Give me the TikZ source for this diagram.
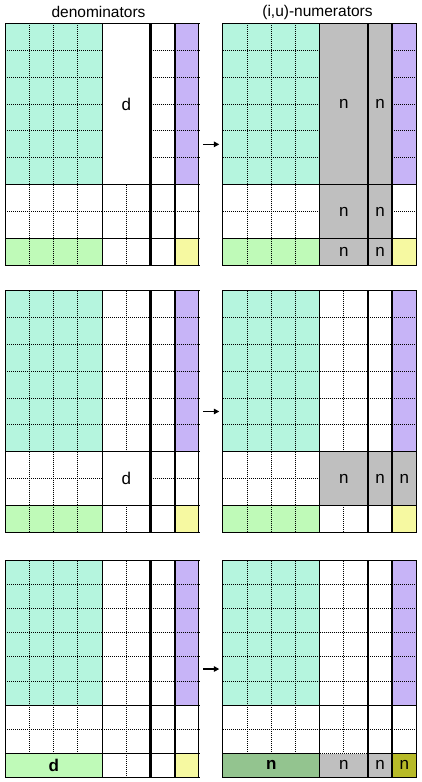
\documentclass[tikz,border=0pt]{standalone}
\usepackage{fontspec}
\setmainfont{Liberation Sans}
\usetikzlibrary{arrows.meta}

\definecolor{mint}{RGB}{181,245,222}
\definecolor{lilac}{RGB}{199,180,247}
\definecolor{pistachio}{RGB}{191,250,184}
\definecolor{lemon}{RGB}{246,249,161}
\definecolor{ngray}{RGB}{191,191,191}
\definecolor{moss}{RGB}{147,196,143}
\definecolor{oliveg}{RGB}{183,186,40}

% block with dotted cells: x1 y1 x2 y2 fill
\newcommand\blk[5]{%
  \fill[#5] (#1,#2) rectangle (#3,#4);
  \foreach \i in {#1,...,#3} \draw[dots] (\i,#2) -- (\i,#4);
  \foreach \j in {#2,...,#4} \draw[dots] (#1,\j) -- (#3,\j);}
% labelled block: name x1 y1 x2 y2 fill label
\newcommand\lblk[7]{%
  \fill[#6] (#2,#3) rectangle (#4,#5);
  \node[lab] (#1) at ({(#2+#4)/2},{(#3+#5)/2}) {#7};}
\newcommand\matframe[1]{%
  \draw[edge] (0,0) rectangle (8,9);
  \foreach \j in {6,8} \draw[edge] (0,\j) -- (8,\j);
  \foreach \i in {4,6,7} \draw[edge] (\i,0) -- (\i,9);
  \foreach \i in {#1} \draw[edge,line width=2.2pt] (\i,0) -- (\i,9);}

\begin{document}
\begin{tikzpicture}[x=1pt,y=-1pt,
  dots/.style={line width=1pt,dash pattern=on 1pt off 1pt},
  edge/.style={line width=1.1pt},
  lab/.style={font=\fontsize{17}{20}\selectfont},
  title/.style={font=\fontsize{15.5}{18}\selectfont},
  goes/.style={-{Triangle[length=5.5pt,width=5.5pt]},line width=1.5pt,shorten <=4.5pt,shorten >=3.5pt}]
\useasboundingbox (0,0) rectangle (422,782);
\node[title] (den) at (98.5,12) {denominators};
\node[title] (num) at (317.5,12) {(i,u)-numerators};

\begin{scope}[shift={(5.3,23.3)},x=24.2pt,y=-26.9pt]
\foreach \a/\b/\c/\d/\f in {0/0/4/6/mint,6/0/7/6/white,7/0/8/6/lilac,0/6/4/8/white,4/6/6/8/white,
  6/6/7/8/white,7/6/8/8/white,0/8/4/9/pistachio,4/8/6/9/white,6/8/7/9/white,7/8/8/9/lemon}
  {\blk{\a}{\b}{\c}{\d}{\f}}
\lblk{d1}{4}{0}{6}{6}{white}{d}
\matframe{6,7}
\coordinate (l1) at (8,4.5);
\end{scope}
\begin{scope}[shift={(222.8,23.3)},x=24.2pt,y=-26.9pt]
\foreach \a/\b/\c/\d/\f in {0/0/4/6/mint,7/0/8/6/lilac,0/6/4/8/white,7/6/8/8/white,0/8/4/9/pistachio,7/8/8/9/lemon}
  {\blk{\a}{\b}{\c}{\d}{\f}}
\lblk{n1a}{4}{0}{6}{6}{ngray}{n}
\lblk{n1b}{6}{0}{7}{6}{ngray}{n}
\lblk{n1c}{4}{6}{6}{8}{ngray}{n}
\lblk{n1d}{6}{6}{7}{8}{ngray}{n}
\lblk{n1e}{4}{8}{6}{9}{ngray}{n}
\lblk{n1f}{6}{8}{7}{9}{ngray}{n}
\matframe{7}
\coordinate (r1) at (0,4.5);
\end{scope}
\draw[goes] (l1) -- (r1);

\begin{scope}[shift={(5.3,290.7)},x=24.2pt,y=-26.84pt]
\foreach \a/\b/\c/\d/\f in {0/0/4/6/mint,4/0/6/6/white,6/0/7/6/white,7/0/8/6/lilac,0/6/4/8/white,
  6/6/7/8/white,7/6/8/8/white,0/8/4/9/pistachio,4/8/6/9/white,6/8/7/9/white,7/8/8/9/lemon}
  {\blk{\a}{\b}{\c}{\d}{\f}}
\lblk{d2}{4}{6}{6}{8}{white}{d}
\matframe{6,7}
\coordinate (l2) at (8,4.5);
\end{scope}
\begin{scope}[shift={(222.8,290.7)},x=24.2pt,y=-26.84pt]
\foreach \a/\b/\c/\d/\f in {0/0/4/6/mint,4/0/6/6/white,6/0/7/6/white,7/0/8/6/lilac,0/6/4/8/white,
  0/8/4/9/pistachio,4/8/6/9/white,6/8/7/9/white,7/8/8/9/lemon}
  {\blk{\a}{\b}{\c}{\d}{\f}}
\lblk{n2a}{4}{6}{6}{8}{ngray}{n}
\lblk{n2b}{6}{6}{7}{8}{ngray}{n}
\lblk{n2c}{7}{6}{8}{8}{ngray}{n}
\matframe{7}
\coordinate (r2) at (0,4.5);
\end{scope}
\draw[goes] (l2) -- (r2);

\begin{scope}[shift={(5.3,560.7)},x=24.2pt,y=-24.07pt]
\foreach \a/\b/\c/\d/\f in {0/0/4/6/mint,4/0/6/6/white,6/0/7/6/white,7/0/8/6/lilac,0/6/4/8/white,
  4/6/6/8/white,6/6/7/8/white,7/6/8/8/white,4/8/6/9/white,6/8/7/9/white,7/8/8/9/lemon}
  {\blk{\a}{\b}{\c}{\d}{\f}}
\lblk{d3}{0}{8}{4}{9}{pistachio}{\textbf{d}}
\matframe{6,7}
\coordinate (l3) at (8,4.5);
\end{scope}
\begin{scope}[shift={(222.8,560.7)},x=24.2pt,y=-24.07pt]
\foreach \a/\b/\c/\d/\f in {0/0/4/6/mint,4/0/6/6/white,6/0/7/6/white,7/0/8/6/lilac,0/6/4/8/white,
  4/6/6/8/white,6/6/7/8/white,7/6/8/8/white}
  {\blk{\a}{\b}{\c}{\d}{\f}}
\lblk{n3a}{0}{8}{4}{9}{moss}{\textbf{n}}
\lblk{n3b}{4}{8}{6}{9}{ngray}{n}
\lblk{n3c}{6}{8}{7}{9}{ngray}{n}
\lblk{n3d}{7}{8}{8}{9}{oliveg}{n}
\matframe{7}
\draw[white,line width=1.2pt] (4.03,8) -- (5.97,8);
\draw[dots] (4,8) -- (6,8);
\coordinate (r3) at (0,4.5);
\end{scope}
\draw[goes] (l3) -- (r3);
\end{tikzpicture}
\end{document}
